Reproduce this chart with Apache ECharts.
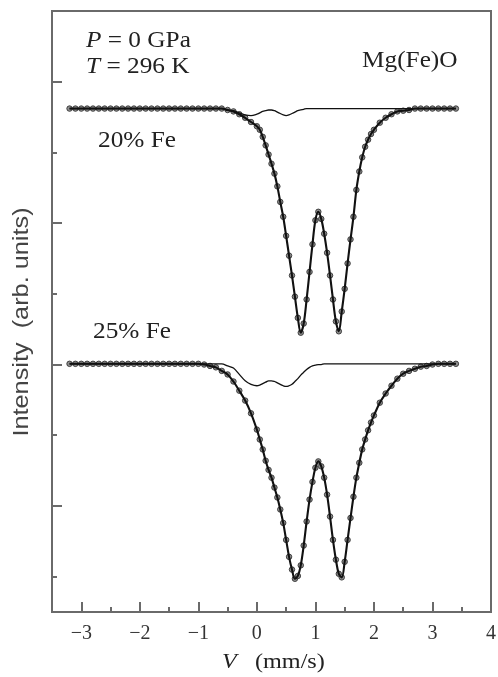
<!DOCTYPE html>
<html>
<head>
<meta charset="utf-8">
<script src="https://cdn.jsdelivr.net/npm/echarts@6/dist/echarts.min.js"></script>
<style>
html,body{margin:0;padding:0;background:#fff;}
#chart{width:498px;height:677px;}
</style>
</head>
<body>
<div id="chart"></div>
<script>
// Velocity channels (mm/s)
const velocity = [-3.2,-3.1,-3.0,-2.9,-2.8,-2.7,-2.6,-2.5,-2.4,-2.3,-2.2,-2.1,-2.0,-1.9,-1.8,-1.7,-1.6,-1.5,-1.4,-1.3,-1.2,-1.1,-1.0,-0.9,-0.8,-0.7,-0.6,-0.5,-0.4,-0.3,-0.2,-0.1,
  0.0,0.05,0.1,0.15,0.2,0.25,0.3,0.35,0.4,0.45,0.5,0.55,0.6,0.65,0.7,0.75,0.8,0.85,0.9,0.95,1.0,1.05,1.1,1.15,1.2,1.25,1.3,1.35,1.4,1.45,1.5,1.55,1.6,1.65,1.7,1.75,1.8,1.85,1.9,1.95,2.0,
  2.1,2.2,2.3,2.4,2.5,2.6,2.7,2.8,2.9,3.0,3.1,3.2,3.3,3.4];

// 20% Fe spectrum (offset, arb. units)
const fe20 = [6.62,6.62,6.62,6.62,6.62,6.62,6.62,6.62,6.62,6.62,6.62,6.62,6.62,6.62,6.62,6.62,6.62,6.62,6.62,6.62,6.62,6.62,6.62,6.62,6.62,6.62,6.62,
  6.60,6.58,6.54,6.49,6.43,
  6.37,6.32,6.22,6.10,5.97,5.84,5.70,5.52,5.30,5.09,4.82,4.54,4.26,3.96,3.66,3.45,3.58,3.92,4.31,4.70,5.04,5.16,5.06,4.85,4.58,4.26,3.92,3.61,3.47,3.75,4.07,4.43,4.77,5.09,5.47,5.73,5.93,6.08,6.18,6.26,6.32,
  6.42,6.49,6.54,6.58,6.59,6.60,6.62,6.62,6.62,6.62,6.62,6.62,6.62,6.62];
// 20% Fe minor sub-spectrum
const sub20 = [6.62,6.62,6.62,6.62,6.62,6.62,6.62,6.62,6.62,6.62,6.62,6.62,6.62,6.62,6.62,6.62,6.62,6.62,6.62,6.62,6.62,6.62,6.62,6.62,6.62,6.62,6.62,
  6.60,6.59,6.56,6.53,6.52,
  6.54,6.56,6.58,6.59,6.60,6.60,6.59,6.57,6.55,6.53,6.52,6.53,6.55,6.57,6.59,6.60,6.61,
  6.62,6.62,6.62,6.62,6.62,6.62,6.62,6.62,6.62,6.62,6.62,6.62,6.62,6.62,6.62,6.62,6.62,6.62,6.62,6.62,6.62,6.62,6.62,6.62,
  6.62,6.62,6.62,6.62,6.62,6.62,6.62,6.62,6.62,6.62,6.62,6.62,6.62,6.62];

// 25% Fe spectrum
const fe25 = [3.01,3.01,3.01,3.01,3.01,3.01,3.01,3.01,3.01,3.01,3.01,3.01,3.01,3.01,3.01,3.01,3.01,3.01,3.01,3.01,3.01,3.01,3.01,
  3.00,2.98,2.96,2.91,2.86,2.76,2.63,2.49,2.31,
  2.08,1.94,1.80,1.64,1.51,1.40,1.26,1.12,0.95,0.76,0.52,0.28,0.10,-0.03,0.01,0.16,0.44,0.78,1.09,1.34,1.54,1.63,1.56,1.40,1.16,0.85,0.52,0.24,0.04,-0.01,0.21,0.52,0.83,1.13,1.40,1.61,1.80,1.94,2.07,2.18,2.28,
  2.46,2.59,2.70,2.80,2.87,2.91,2.94,2.97,2.98,3.00,3.01,3.01,3.01,3.01];
// 25% Fe minor sub-spectrum
const sub25 = [3.01,3.01,3.01,3.01,3.01,3.01,3.01,3.01,3.01,3.01,3.01,3.01,3.01,3.01,3.01,3.01,3.01,3.01,3.01,3.01,3.01,3.01,3.01,3.01,3.01,3.01,3.01,
  2.98,2.95,2.86,2.77,2.72,
  2.70,2.71,2.73,2.75,2.77,2.77,2.76,2.74,2.72,2.70,2.69,2.70,2.72,2.76,2.80,2.85,2.89,2.93,2.96,2.98,2.99,3.00,3.00,
  3.01,3.01,3.01,3.01,3.01,3.01,3.01,3.01,3.01,3.01,3.01,3.01,3.01,3.01,3.01,3.01,3.01,3.01,
  3.01,3.01,3.01,3.01,3.01,3.01,3.01,3.01,3.01,3.01,3.01,3.01,3.01,3.01];

const xMajorTicks = [-3,-2,-1,0,1,2,3,4];
const xMinorTicks = [-2.5,-1.5,-0.5,0.5,1.5,2.5,3.5];
const yMajorTicks = [1,3,5,7];
const yMinorTicks = [0,2,4,6];

function pairs(ys){ return velocity.map((v,i)=>[v, ys[i]]); }

const serif = '"Liberation Serif","DejaVu Serif",serif';
const axisColor = '#6a6a6a';
const chart = echarts.init(document.getElementById('chart'), null, {renderer:'canvas'});

function dots(ys){
  return {type:'scatter', data:pairs(ys), symbol:'circle', symbolSize:5.5, z:2,
    itemStyle:{color:'#8e8e8e', borderColor:'#333', borderWidth:0.9, opacity:1}, silent:true};
}
function fit(ys, w){
  return {type:'line', data:pairs(ys), smooth:0.35, showSymbol:false, z:3, silent:true,
    lineStyle:{color:'#111', width:w}};
}
const noLine = {show:false, onZero:false};

chart.setOption({
  animation:false,
  backgroundColor:'#fff',
  grid:{left:52, right:7, top:11, bottom:65, show:true, borderColor:axisColor, borderWidth:2, containLabel:false, outerBoundsMode:'none'},
  xAxis:[
    {type:'value', min:-3.5, max:4, position:'bottom',
     axisLine:noLine, splitLine:{show:false},
     axisTick:{show:true, inside:true, length:10, customValues:xMajorTicks, lineStyle:{color:axisColor, width:2}},
     axisLabel:{show:true, customValues:xMajorTicks, margin:12, fontSize:20, fontFamily:serif, color:'#333',
       formatter:v=> (v<0 ? '\u2212'+Math.abs(v) : String(v))}},
    {type:'value', min:-3.5, max:4, position:'bottom',
     axisLine:noLine, splitLine:{show:false}, axisLabel:{show:false},
     axisTick:{show:true, inside:true, length:5, customValues:xMinorTicks, lineStyle:{color:axisColor, width:2}}}
  ],
  yAxis:[
    {type:'value', min:-0.5, max:8, position:'left',
     axisLine:noLine, splitLine:{show:false}, axisLabel:{show:false},
     axisTick:{show:true, inside:true, length:10, customValues:yMajorTicks, lineStyle:{color:axisColor, width:2}}},
    {type:'value', min:-0.5, max:8, position:'left',
     axisLine:noLine, splitLine:{show:false}, axisLabel:{show:false},
     axisTick:{show:true, inside:true, length:5, customValues:yMinorTicks, lineStyle:{color:axisColor, width:2}}}
  ],
  series:[
    dots(fe20), fit(fe20, 2.1), fit(sub20, 1.3),
    dots(fe25), fit(fe25, 2.1), fit(sub25, 1.3)
  ],
  graphic:[
    {type:'text', left:86, top:29, scaleX:1.1, style:{text:'{i|P} = 0 GPa', font:'23px '+serif, fill:'#222',
      rich:{i:{fontStyle:'italic', fontSize:23, fontFamily:serif, fill:'#222'}}}},
    {type:'text', left:86, top:55, scaleX:1.1, style:{text:'{i|T} = 296 K', font:'23px '+serif, fill:'#222',
      rich:{i:{fontStyle:'italic', fontSize:23, fontFamily:serif, fill:'#222'}}}},
    {type:'text', left:362, top:49, scaleX:1.1, style:{text:'Mg(Fe)O', font:'23px '+serif, fill:'#222'}},
    {type:'text', left:98, top:129, scaleX:1.1, style:{text:'20% Fe', font:'23px '+serif, fill:'#222'}},
    {type:'text', left:93, top:320, scaleX:1.1, style:{text:'25% Fe', font:'23px '+serif, fill:'#222'}},
    {type:'text', left:222, top:651, scaleX:1.1, style:{text:'{i|V}   (mm/s)', font:'22px '+serif, fill:'#222',
      rich:{i:{fontStyle:'italic', fontSize:22, fontFamily:serif, fill:'#222'}}}},
    {type:'text', x:22, y:322, rotation:Math.PI/2, scaleX:1.15,
      style:{text:'Intensity  (arb. units)', font:'22px "Liberation Sans",sans-serif', fill:'#444', align:'center', verticalAlign:'middle'}}
  ]
});
</script>
</body>
</html>
